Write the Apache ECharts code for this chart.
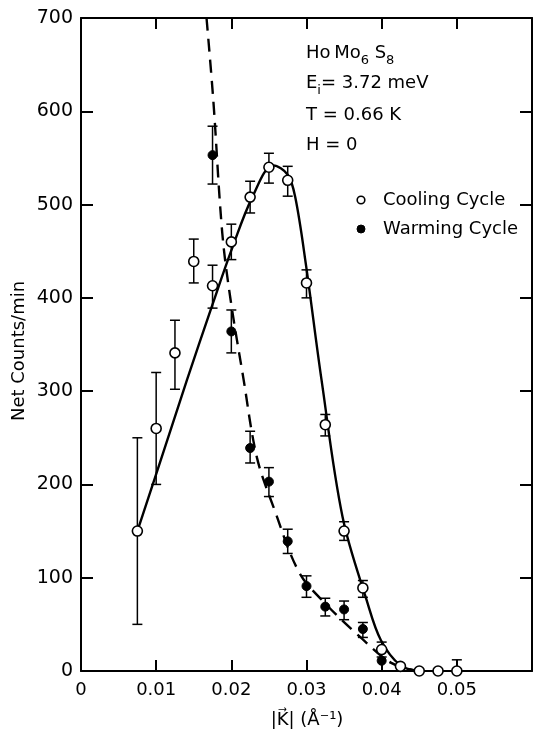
<!DOCTYPE html>
<html>
<head>
<meta charset="utf-8">
<script src="https://cdn.jsdelivr.net/npm/echarts@6/dist/echarts.min.js"></script>
<style>html,body{margin:0;padding:0;background:#fff}#c{width:536px;height:729px}</style>
</head>
<body>
<div id="c"></div>
<script>
// ---- Data ----
const xTicks = [0, 0.01, 0.02, 0.03, 0.04, 0.05];
const yTicks = [0, 100, 200, 300, 400, 500, 600, 700];

// Cooling cycle (open circles)
const coolK  = [0.0075, 0.01, 0.0125, 0.015, 0.0175, 0.02, 0.0225, 0.025, 0.0275, 0.03, 0.0325, 0.035, 0.0375, 0.04, 0.0425, 0.045, 0.0475, 0.05];
const coolN  = [150, 260, 341, 439, 413, 460, 508, 540, 526, 416, 264, 150, 89, 23, 5, 0, 0, 0];
const coolLo = [50, 200, 302, 416, 389, 441, 491, 523, 509, 400, 252, 140, 79, 15, null, null, null, 0];
const coolHi = [250, 320, 376, 463, 435, 479, 525, 555, 541, 430, 275, 160, 97, 31, null, null, null, 12];

// Warming cycle (filled circles)
const warmK  = [0.0175, 0.02, 0.0225, 0.025, 0.0275, 0.03, 0.0325, 0.035, 0.0375, 0.04];
const warmN  = [553, 364, 239, 203, 139, 91, 69, 66, 45, 11];
const warmLo = [522, 341, 223, 187, 126, 79, 59, 55, 36, null];
const warmHi = [584, 387, 257, 218, 152, 102, 78, 75, 52, null];

// Guide curves
const coolCurveK = [0.0075, 0.0100, 0.0141, 0.0175, 0.0201, 0.0228, 0.0256, 0.0275, 0.0285, 0.0299, 0.0320, 0.0348, 0.0380, 0.0399, 0.0425, 0.0450];
const coolCurveN = [150, 211, 312, 393, 453, 508, 542, 532, 508, 437, 312, 165, 76, 33, 6, 0];
const warmCurveK = [0.0167, 0.0176, 0.0188, 0.0199, 0.0216, 0.0234, 0.0256, 0.0290, 0.0323, 0.0372, 0.0412, 0.0448];
const warmCurveN = [700, 612, 469, 398, 314, 229, 176, 106, 74, 36, 9, 0];

const FONT = 'DejaVu Sans';

function zip(a, b) { return a.map((v, i) => [v, b[i]]); }
function errData(k, lo, hi) {
  const out = [];
  k.forEach((v, i) => { if (lo[i] != null) out.push([v, lo[i], hi[i]]); });
  return out;
}
function errRender(params, api) {
  const x = api.value(0);
  const p1 = api.coord([x, api.value(1)]);
  const p2 = api.coord([x, api.value(2)]);
  const w = 5;
  const st = { stroke: '#000', lineWidth: 1.5 };
  return {
    type: 'group',
    children: [
      { type: 'line', shape: { x1: p1[0], y1: p1[1], x2: p2[0], y2: p2[1] }, style: st },
      { type: 'line', shape: { x1: p1[0] - w, y1: p1[1], x2: p1[0] + w, y2: p1[1] }, style: st },
      { type: 'line', shape: { x1: p2[0] - w, y1: p2[1], x2: p2[0] + w, y2: p2[1] }, style: st }
    ]
  };
}

const chart = echarts.init(document.getElementById('c'), null, { renderer: 'canvas' });
const axisLine = { show: true, onZero: false, lineStyle: { color: '#000', width: 2 } };
const tick = { show: true, inside: true, length: 11, lineStyle: { color: '#000', width: 2 } };
const subRich = {
  n: { fontFamily: FONT, fontSize: 18, lineHeight: 28, verticalAlign: 'middle', fill: '#000' },
  s: { fontFamily: FONT, fontSize: 13, lineHeight: 28, verticalAlign: 'bottom', fill: '#000' }
};

chart.setOption({
  animation: false,
  backgroundColor: '#fff',
  grid: { left: 81, right: 4, top: 18, bottom: 58 },
  xAxis: [
    {
      type: 'value', min: 0, max: 0.06, interval: 0.01, position: 'bottom',
      axisLine, axisTick: tick, splitLine: { show: false },
      axisLabel: {
        color: '#000', fontFamily: FONT, fontSize: 18, margin: 10,
        formatter: v => {
          const r = Math.round(v * 100) / 100;
          if (!xTicks.includes(r)) return '';
          return r === 0 ? '0' : r.toFixed(2);
        }
      }
    },
    {
      type: 'value', min: 0, max: 0.06, interval: 0.01, position: 'top',
      axisLine, axisTick: tick, axisLabel: { show: false }, splitLine: { show: false }
    }
  ],
  yAxis: [
    {
      type: 'value', min: 0, max: 700, interval: 100, position: 'left',
      axisLine, axisTick: { ...tick, length: 12 }, splitLine: { show: false },
      axisLabel: {
        color: '#000', fontFamily: FONT, fontSize: 19, margin: 8,
        formatter: v => yTicks.includes(v) ? String(v) : ''
      }
    },
    {
      type: 'value', min: 0, max: 700, interval: 100, position: 'right',
      axisLine, axisTick: { ...tick, length: 12 }, axisLabel: { show: false }, splitLine: { show: false }
    }
  ],
  graphic: [
    { type: 'text', x: 19, y: 351, rotation: Math.PI / 2,
      style: { text: 'Net Counts/min', fontFamily: FONT, fontSize: 18, fill: '#000', textAlign: 'center', textVerticalAlign: 'middle' } },
    { type: 'text', x: 307, y: 720,
      style: { text: '|K\u20D7| (Å\u207B\u00B9)', fontFamily: FONT, fontSize: 18, fill: '#000', textAlign: 'center', textVerticalAlign: 'middle' } },
    { type: 'text', x: 306, y: 53,
      style: { text: '{n|Ho\u2009Mo}{s|6}{n| S}{s|8}', textVerticalAlign: 'middle', fill: '#000', rich: subRich } },
    { type: 'text', x: 306, y: 83,
      style: { text: '{n|E}{s|i}{n|= 3.72 meV}', textVerticalAlign: 'middle', fill: '#000', rich: subRich } },
    { type: 'text', x: 306, y: 115,
      style: { text: 'T = 0.66 K', fontFamily: FONT, fontSize: 18, fill: '#000', textVerticalAlign: 'middle' } },
    { type: 'text', x: 306, y: 145,
      style: { text: 'H = 0', fontFamily: FONT, fontSize: 18, fill: '#000', textVerticalAlign: 'middle' } },
    { type: 'circle', shape: { cx: 361, cy: 200, r: 3.8 }, style: { fill: '#fff', stroke: '#000', lineWidth: 1.6 } },
    { type: 'text', x: 383, y: 200,
      style: { text: 'Cooling Cycle', fontFamily: FONT, fontSize: 18, fill: '#000', textVerticalAlign: 'middle' } },
    { type: 'circle', shape: { cx: 361, cy: 229, r: 4 }, style: { fill: '#000', stroke: '#000', lineWidth: 1 } },
    { type: 'text', x: 383, y: 229,
      style: { text: 'Warming Cycle', fontFamily: FONT, fontSize: 18, fill: '#000', textVerticalAlign: 'middle' } }
  ],
  series: [
    {
      type: 'line', data: zip(coolCurveK, coolCurveN), smooth: 0.35, symbol: 'none', clip: true, z: 2,
      lineStyle: { color: '#000', width: 2.4 }
    },
    {
      type: 'line', data: zip(warmCurveK, warmCurveN), smooth: 0.35, symbol: 'none', clip: true, z: 2,
      lineStyle: { color: '#000', width: 2.4, type: [13, 8] }
    },
    { type: 'custom', data: errData(coolK, coolLo, coolHi), renderItem: errRender, z: 3 },
    { type: 'custom', data: errData(warmK, warmLo, warmHi), renderItem: errRender, z: 3 },
    {
      type: 'scatter', data: zip(coolK, coolN), symbol: 'circle', symbolSize: 10, z: 4,
      itemStyle: { color: '#fff', borderColor: '#000', borderWidth: 1.6, opacity: 1 }
    },
    {
      type: 'scatter', data: zip(warmK, warmN), symbol: 'circle', symbolSize: 9, z: 4,
      itemStyle: { color: '#000', borderColor: '#000', borderWidth: 1, opacity: 1 }
    }
  ]
});
</script>
</body>
</html>
